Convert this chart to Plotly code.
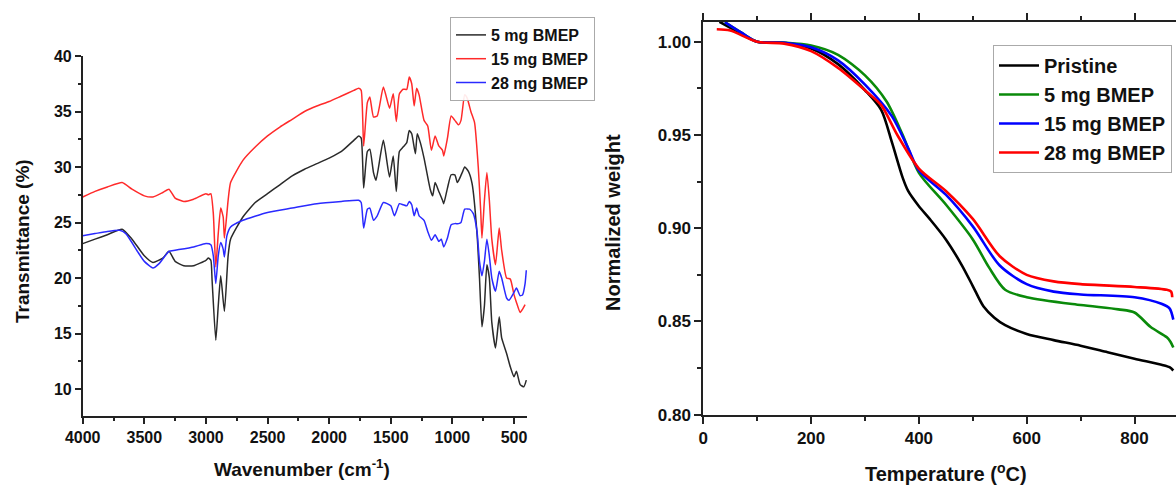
import plotly.graph_objects as go

# ---------------- FTIR data (left panel) ----------------
wn_5 = [4000, 3900, 3800, 3680, 3600, 3500, 3430, 3350, 3300, 3250, 3180, 3100, 3000, 2980, 2960, 2950,
        2920, 2900, 2880, 2850, 2820, 2800, 2700, 2600, 2500, 2400, 2300, 2200, 2100, 2000, 1900, 1800,
        1760, 1740, 1720, 1690, 1670, 1640, 1620, 1560, 1510, 1480, 1455, 1430, 1400, 1370, 1350, 1330,
        1300, 1285, 1260, 1230, 1180, 1160, 1140, 1110, 1080, 1070, 1040, 1010, 980, 960, 940, 920, 900,
        870, 840, 800, 780, 760, 740, 720, 700, 680, 650, 620, 600, 560, 530, 500, 480, 450, 420, 400]
t_5 = [23.1, 23.5, 23.9, 24.4, 23.5, 22.0, 21.4, 21.8, 22.4, 21.5, 21.1, 21.1, 21.6, 21.8, 21.6, 19.8,
       14.4, 17.5, 20.2, 17.0, 22.0, 23.5, 25.5, 26.8, 27.6, 28.4, 29.2, 29.8, 30.3, 30.8, 31.4, 32.4,
       32.8, 32.6, 28.1, 31.4, 31.6, 29.5, 28.8, 32.4, 29.1, 31.0, 27.8, 31.4, 31.8, 32.2, 33.3, 33.0,
       31.2, 33.0, 32.2, 30.8, 28.0, 27.4, 28.6, 27.8, 27.0, 26.7, 28.1, 29.3, 29.3, 28.6, 29.0, 29.5, 30.0,
       29.6, 28.5, 24.0, 20.0, 15.6, 17.5, 21.2, 20.0, 16.0, 13.7, 16.5, 14.6, 13.2, 12.0, 11.1, 11.6, 10.4, 10.2, 10.8]

wn_15 = [4000, 3900, 3800, 3680, 3600, 3500, 3430, 3350, 3300, 3250, 3180, 3100, 3000, 2980, 2960, 2940,
         2920, 2900, 2880, 2860, 2850, 2820, 2800, 2700, 2600, 2500, 2400, 2300, 2200, 2100, 2000, 1900,
         1800, 1760, 1740, 1720, 1690, 1670, 1640, 1610, 1560, 1510, 1480, 1455, 1430, 1400, 1370, 1350,
         1330, 1310, 1290, 1270, 1230, 1200, 1170, 1140, 1110, 1080, 1070, 1040, 1010, 980, 950, 930, 900,
         880, 850, 820, 790, 770, 760, 740, 720, 700, 680, 650, 620, 600, 560, 530, 500, 480, 450, 430, 410]
t_15 = [27.3, 27.8, 28.2, 28.6, 28.0, 27.4, 27.3, 27.7, 28.0, 27.2, 26.9, 27.1, 27.6, 27.5, 27.6, 25.8,
        21.0, 24.0, 26.3, 25.5, 23.6, 27.0, 28.6, 30.6, 31.8, 32.8, 33.6, 34.3, 35.0, 35.5, 35.9, 36.4,
        36.9, 37.1, 36.9, 31.9, 35.8, 36.3, 34.5, 34.6, 37.2, 35.3, 36.6, 34.1, 36.6, 37.0, 37.0, 38.1,
        37.5, 35.5, 37.1, 36.5, 34.2, 33.7, 31.5, 32.8, 31.9, 31.5, 31.0, 32.6, 34.6, 34.2, 33.8, 34.2, 36.5,
        36.2, 35.0, 34.0, 30.0, 26.0, 23.6, 27.0, 29.5, 27.0, 23.5, 21.2, 24.5, 22.5, 20.0, 19.9, 18.5, 17.8, 16.9, 17.2, 17.6]

wn_28 = [4000, 3900, 3800, 3700, 3650, 3550, 3500, 3430, 3380, 3300, 3250, 3100, 3000, 2960, 2940, 2920,
         2900, 2880, 2860, 2850, 2830, 2800, 2700, 2500, 2300, 2100, 1900, 1760, 1740, 1720, 1690, 1670,
         1640, 1610, 1560, 1500, 1470, 1430, 1400, 1370, 1350, 1330, 1310, 1290, 1270, 1230, 1200, 1170,
         1140, 1110, 1090, 1070, 1040, 1010, 980, 950, 930, 900, 860, 830, 800, 780, 760, 740, 720, 700,
         680, 650, 620, 600, 560, 540, 500, 480, 450, 430, 410, 400]
t_28 = [23.8, 24.0, 24.2, 24.3, 24.0, 22.3, 21.5, 20.9, 21.3, 22.4, 22.5, 22.8, 23.1, 23.0, 22.0, 19.5,
        22.0, 23.2, 22.6, 21.9, 23.8, 24.6, 25.2, 25.9, 26.3, 26.7, 26.9, 27.0, 26.8, 24.5, 26.2, 26.3,
        25.2, 25.6, 26.8, 26.5, 25.6, 26.7, 26.6, 26.5, 26.9, 26.6, 25.6, 26.3, 25.6, 25.2, 24.2, 23.4,
        23.9, 23.3, 23.5, 22.8, 23.6, 24.8, 24.9, 24.9, 25.0, 26.2, 26.2, 25.8, 24.2, 21.5, 20.2, 21.5, 23.5, 22.0,
        20.0, 18.8, 20.6, 20.0, 18.2, 18.0, 18.7, 19.1, 18.4, 18.5, 19.5, 20.7]

# ---------------- TGA data (right panel) ----------------
temp_p = [30, 60, 100, 150, 200, 250, 300, 330, 350, 370, 380, 400, 420, 450, 480, 500, 520, 540, 560,
          600, 650, 700, 750, 800, 850, 865, 872]
w_p = [1.0107, 1.006, 1.000, 0.9995, 0.9964, 0.988, 0.974, 0.9635, 0.946, 0.927, 0.920, 0.9118, 0.905,
       0.894, 0.880, 0.869, 0.858, 0.852, 0.848, 0.8433, 0.840, 0.837, 0.8335, 0.830, 0.8268, 0.8255, 0.8237]

temp_5 = [40, 70, 100, 150, 200, 250, 300, 340, 370, 400, 450, 500, 530, 560, 600, 700, 770, 800, 830,
          860, 867, 872]
w_5 = [1.0105, 1.005, 1.000, 0.9995, 0.998, 0.993, 0.982, 0.968, 0.950, 0.9297, 0.9127, 0.894, 0.879,
       0.867, 0.863, 0.8588, 0.8565, 0.8548, 0.847, 0.8415, 0.839, 0.836]

temp_15 = [40, 70, 100, 150, 200, 250, 300, 350, 380, 400, 450, 500, 550, 600, 650, 700, 800, 850, 865, 872]
w_15 = [1.0105, 1.005, 1.000, 0.9995, 0.997, 0.990, 0.977, 0.960, 0.943, 0.931, 0.918, 0.901, 0.880,
        0.870, 0.866, 0.8645, 0.863, 0.8595, 0.857, 0.851]

temp_28 = [25, 50, 100, 150, 200, 250, 300, 330, 360, 400, 450, 500, 550, 600, 650, 700, 800, 860, 868, 870]
w_28 = [1.0067, 1.006, 1.000, 0.999, 0.995, 0.986, 0.974, 0.966, 0.950, 0.932, 0.920, 0.905, 0.885,
        0.875, 0.8715, 0.870, 0.8685, 0.867, 0.866, 0.863]

FONT = "Liberation Sans, Arial, sans-serif"

fig = go.Figure()

ftir = [("5 mg BMEP", wn_5, t_5, "#2a2a2a"),
        ("15 mg BMEP", wn_15, t_15, "#ff2a2a"),
        ("28 mg BMEP", wn_28, t_28, "#2a2aff")]
for name, x, y, c in ftir:
    fig.add_trace(go.Scatter(x=x, y=y, mode="lines", name=name, legend="legend",
                             line=dict(color=c, width=1.5, shape="spline", smoothing=0.5),
                             xaxis="x", yaxis="y"))

tga = [("Pristine", temp_p, w_p, "#000000"),
       ("5 mg BMEP", temp_5, w_5, "#0a8a0a"),
       ("15 mg BMEP", temp_15, w_15, "#0000ff"),
       ("28 mg BMEP", temp_28, w_28, "#ff0000")]
for name, x, y, c in tga:
    fig.add_trace(go.Scatter(x=x, y=y, mode="lines", name=name, legend="legend2",
                             line=dict(color=c, width=2.6, shape="spline", smoothing=0.8),
                             xaxis="x2", yaxis="y2"))

W, H = 1176, 485
ax_common = dict(showgrid=False, zeroline=False, showline=True, linecolor="#222", linewidth=1.5,
                 ticks="outside", tickcolor="#222", tickwidth=1.5, ticklen=6, automargin=False,
                 tickfont=dict(family=FONT, size=16, color="#111", weight="bold"))
ax_right = {**ax_common, "linewidth": 2, "tickwidth": 2, "ticklen": 7,
            "tickfont": dict(family=FONT, size=17, color="#111", weight="bold")}

fig.update_layout(
    width=W, height=H, margin=dict(l=0, r=0, t=0, b=0, autoexpand=False),
    paper_bgcolor="white", plot_bgcolor="white",
    font=dict(family=FONT),
    xaxis=dict(domain=[82.7 / W, 527.3 / W], range=[4000, 392], tickvals=[4000, 3500, 3000, 2500, 2000, 1500, 1000, 500],
               minor=dict(ticks="outside", ticklen=3, tickcolor="#222", dtick=250, tick0=0),
               anchor="y", **ax_common),
    yaxis=dict(domain=[1 - 416 / H, 1 - 56 / H], range=[7.57, 40], tickvals=[10, 15, 20, 25, 30, 35, 40],
               minor=dict(ticks="outside", ticklen=3, tickcolor="#222", dtick=2.5, tick0=0),
               anchor="x", **ax_common),
    xaxis2=dict(domain=[703.3 / W, 1.0], range=[0, 877], tickvals=[0, 200, 400, 600, 800],
                minor=dict(ticks="outside", ticklen=4, tickcolor="#222", dtick=100, tick0=0),
                mirror="ticks", anchor="y2", **ax_right),
    yaxis2=dict(domain=[1 - 414.7 / H, 1 - 22 / H], range=[0.80, 1.0106],
                tickvals=[0.80, 0.85, 0.90, 0.95, 1.00], ticktext=["0.80", "0.85", "0.90", "0.95", "1.00"],
                minor=dict(ticks="outside", ticklen=4, tickcolor="#222", dtick=0.025, tick0=0),
                anchor="x2", **ax_right),
    legend=dict(x=450 / W, y=1 - 17 / H, xanchor="left", yanchor="top",
                bgcolor="rgba(255,255,255,0.9)", bordercolor="#aaa", borderwidth=1,
                font=dict(family=FONT, size=16, color="#111", weight="bold"),
                tracegroupgap=0, itemwidth=30),
    legend2=dict(x=993 / W, y=1 - 45 / H, xanchor="left", yanchor="top",
                 bgcolor="rgba(255,255,255,0.9)", bordercolor="#aaa", borderwidth=1,
                 font=dict(family=FONT, size=20, color="#111", weight="bold"),
                 tracegroupgap=0, itemwidth=40),
    showlegend=True,
)

fig.add_annotation(text="Transmittance (%)", x=22 / W, y=1 - 241 / H, xref="paper", yref="paper",
                   textangle=-90, showarrow=False, font=dict(family=FONT, size=19, color="#111", weight="bold"),
                   xanchor="center", yanchor="middle")
fig.add_annotation(text="Wavenumber (cm<sup>-1</sup>)", x=302 / W, y=1 - 468 / H, xref="paper", yref="paper",
                   showarrow=False, font=dict(family=FONT, size=19, color="#111", weight="bold"),
                   xanchor="center", yanchor="middle")
fig.add_annotation(text="Normalized weight", x=613 / W, y=1 - 223 / H, xref="paper", yref="paper",
                   textangle=-90, showarrow=False, font=dict(family=FONT, size=20, color="#111", weight="bold"),
                   xanchor="center", yanchor="middle")
fig.add_annotation(text="Temperature (<sup>o</sup>C)", x=946 / W, y=1 - 472 / H, xref="paper", yref="paper",
                   showarrow=False, font=dict(family=FONT, size=20, color="#111", weight="bold"),
                   xanchor="center", yanchor="middle")

fig.write_html("out.html")
